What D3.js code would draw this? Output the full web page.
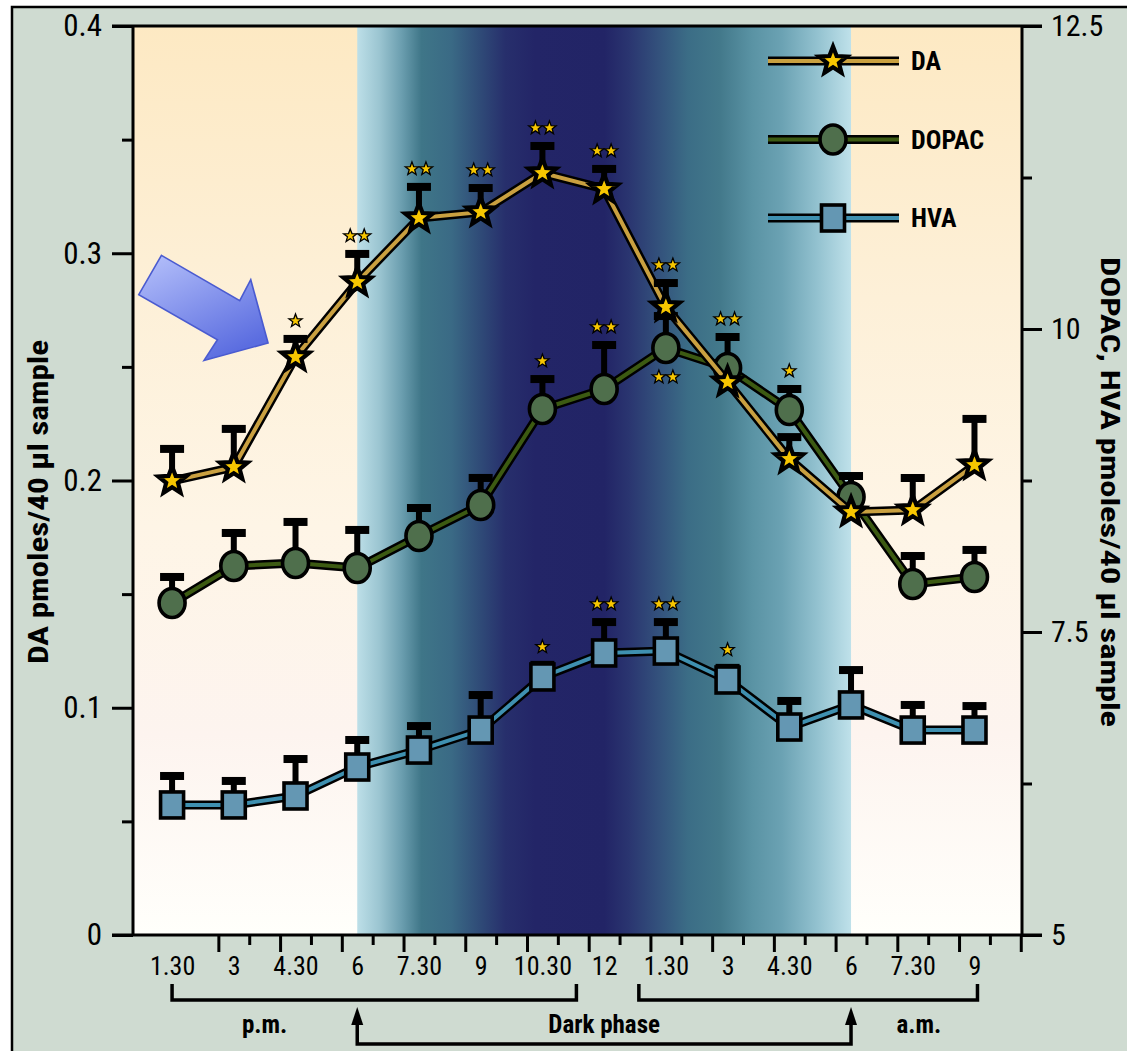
<!DOCTYPE html>
<html><head><meta charset="utf-8">
<script src="https://cdn.jsdelivr.net/npm/d3@7"></script>
<style>body{margin:0;background:#fff}svg{display:block}</style>
</head><body><svg id="c" width="1127" height="1051"></svg>
<script>
// ---------- data ----------
const timeLabels = ["1.30","3","4.30","6","7.30","9","10.30","12","1.30","3","4.30","6","7.30","9"];
const daMean   = [0.1998,0.2059,0.2543,0.2873,0.3155,0.3181,0.3353,0.3283,0.2763,0.2433,0.2095,0.1861,0.1870,0.2068];
const daErr    = [0.0141,0.0168,0.0080,0.0124,0.0137,0.0106,0.0119,0.0088,0.0106,0,0.0096,0,0.0141,0.0203];
const dopacMean= [7.739,8.045,8.069,8.028,8.292,8.548,9.340,9.505,9.843,9.678,9.332,8.614,7.896,7.954];
const dopacErr = [0.215,0.272,0.339,0.314,0.231,0.223,0.247,0.363,0.264,0.256,0.173,0.173,0.231,0.223];
const hvaMean  = [6.073,6.073,6.147,6.386,6.526,6.691,7.129,7.327,7.343,7.104,6.716,6.898,6.691,6.691];
const hvaErr   = [0.239,0.198,0.305,0.223,0.198,0.289,0.100,0.255,0.239,0.100,0.215,0.288,0.207,0.198];
// significance marks: [time index, number of stars, side]
const daSig    = [[2,1,"up"],[3,2,"up"],[4,2,"up"],[5,2,"up"],[6,2,"up"],[7,2,"up"],[8,2,"up"]];
const dopacSig = [[6,1,"up"],[7,2,"up"],[8,2,"down"],[9,2,"up"],[10,1,"up"]];
const hvaSig   = [[6,1,"up"],[7,2,"up"],[8,2,"up"],[9,1,"up"]];
const leftTicks  = [0,0.1,0.2,0.3,0.4];
const leftMinor  = [0.05,0.15,0.25,0.35];
const rightTicks = [5,7.5,10,12.5];
const rightMinor = [6.25,8.75,11.25];
const legendNames = ["DA","DOPAC","HVA"];
const periodLabels = ["p.m.","Dark phase","a.m."];

// ---------- layout ----------
const svg = d3.select("#c");
const L=133, R=1022, T=26, B=935;
const x = d3.scaleLinear().domain([-0.633,13.77]).range([L,R]);
const yDA = d3.scaleLinear().domain([0,0.4]).range([B,T]);
const yR  = d3.scaleLinear().domain([5,12.5]).range([B,T]);
const FONT = "'Liberation Sans Narrow','Roboto Condensed','DejaVu Sans Condensed',Roboto,sans-serif";

const defs = svg.append("defs");
const lg = defs.append("linearGradient").attr("id","light").attr("x1",0).attr("y1",0).attr("x2",0).attr("y2",1);
[[0,"#fde9c3"],[0.3,"#fdf0d8"],[0.55,"#fef5e6"],[0.78,"#fdf4ef"],[1,"#fffffb"]].forEach(s=>lg.append("stop").attr("offset",s[0]).attr("stop-color",s[1]));
const dg = defs.append("linearGradient").attr("id","dark").attr("x1",0).attr("y1",0).attr("x2",1).attr("y2",0);
[[0,"#bddfe8"],[0.045,"#9bc5d1"],[0.09,"#6b9eaf"],[0.13,"#3f7688"],[0.19,"#3a6a85"],[0.25,"#2f4a77"],[0.3,"#272f6c"],[0.36,"#232567"],[0.5,"#222466"],[0.55,"#2a3570"],[0.61,"#33517c"],[0.67,"#3b6d86"],[0.735,"#43798b"],[0.8,"#5a93a4"],[0.86,"#6ba2b3"],[0.93,"#92c1cf"],[1,"#bfe1ea"]].forEach(s=>dg.append("stop").attr("offset",s[0]).attr("stop-color",s[1]));
const ag = defs.append("linearGradient").attr("id","arrowG").attr("x1",0).attr("y1",0).attr("x2",0.6).attr("y2",1);
ag.append("stop").attr("offset",0).attr("stop-color","#b7c2fb");
ag.append("stop").attr("offset",1).attr("stop-color","#5b6de0");

// outer frame
svg.append("rect").attr("x",12).attr("y",7).attr("width",1140).attr("height",1070)
  .attr("fill","#cfdbd1").attr("stroke","#000").attr("stroke-width",2.5);

// plot backgrounds
svg.append("rect").attr("x",L).attr("y",T).attr("width",R-L).attr("height",B-T).attr("fill","url(#light)");
svg.append("rect").attr("x",x(3)).attr("y",T).attr("width",x(11)-x(3)).attr("height",B-T).attr("fill","url(#dark)");

// ---------- axes ----------
function styleAxis(g){
  g.select(".domain").remove();
  g.selectAll(".tick line").attr("stroke","#000").attr("stroke-width",3);
  g.selectAll("text").attr("font-family",FONT).attr("fill","#000");
}
svg.append("g").attr("transform",`translate(${L},0)`)
  .call(d3.axisLeft(yDA).tickValues(leftTicks).tickSize(21).tickPadding(10).tickFormat(d=>d===0?"0":d3.format(".1f")(d)))
  .call(styleAxis).selectAll("text").attr("font-size",31);
svg.append("g").attr("transform",`translate(${L},0)`)
  .call(d3.axisLeft(yDA).tickValues(leftMinor).tickSize(11).tickFormat(""))
  .call(styleAxis);
svg.append("g").attr("transform",`translate(${R},0)`)
  .call(d3.axisRight(yR).tickValues(rightTicks).tickSize(20).tickPadding(9).tickFormat(d=>String(d)))
  .call(styleAxis).selectAll("text").attr("font-size",30);
svg.append("g").attr("transform",`translate(${R},0)`)
  .call(d3.axisRight(yR).tickValues(rightMinor).tickSize(10).tickFormat(""))
  .call(styleAxis);
// bottom ticks (every 45 min)
const longTicks = d3.range(0,14).map(k=>k+0.75);
const shortTicks = d3.range(1,14).map(k=>k+0.25);
svg.append("g").attr("transform",`translate(0,${B})`)
  .call(d3.axisBottom(x).tickValues(longTicks).tickSize(17).tickFormat("")).call(styleAxis);
svg.append("g").attr("transform",`translate(0,${B})`)
  .call(d3.axisBottom(x).tickValues(shortTicks).tickSize(10).tickFormat("")).call(styleAxis);
svg.append("g").attr("transform",`translate(0,${B})`)
  .call(d3.axisBottom(x).tickValues(d3.range(14)).tickSize(0).tickPadding(22).tickFormat(i=>timeLabels[i]))
  .call(styleAxis).selectAll("text").attr("font-size",26);

// frame lines of plot
svg.append("path").attr("d",`M${L},${T}V${B}M${R},${T}V${B}M${L-21},${T}H${R+20}M${L-21},${B}H${R+20}`)
  .attr("stroke","#000").attr("stroke-width",3).attr("fill","none");

// axis titles
svg.append("text").attr("transform",`translate(48,502) rotate(-90)`).attr("text-anchor","middle")
  .attr("font-family",FONT).attr("font-weight","bold").attr("font-size",27)
  .attr("textLength",324).attr("lengthAdjust","spacingAndGlyphs").text("DA pmoles/40 µl sample");
svg.append("text").attr("transform",`translate(1101,492) rotate(90)`).attr("text-anchor","middle")
  .attr("font-family",FONT).attr("font-weight","bold").attr("font-size",26)
  .attr("textLength",470).attr("lengthAdjust","spacingAndGlyphs").text("DOPAC, HVA pmoles/40 µl sample");

// ---------- helpers ----------
function starPath(cx,cy,Ro,Ri){
  let p=[];
  for(let k=0;k<10;k++){const a=-Math.PI/2+k*Math.PI/5, r=k%2?Ri:Ro; p.push([cx+r*Math.cos(a),cy+r*Math.sin(a)]);}
  return "M"+p.map(q=>q[0].toFixed(2)+","+q[1].toFixed(2)).join("L")+"Z";
}
function marker(g,type,cx,cy){
  if(type==="star"){
    g.append("path").attr("d",starPath(cx,cy,14.5,6.2)).attr("fill","#f7c600").attr("stroke","#000")
      .attr("stroke-width",4.2).attr("stroke-linejoin","miter").attr("stroke-miterlimit",12);
  } else if(type==="circle"){
    g.append("ellipse").attr("cx",cx).attr("cy",cy).attr("rx",13).attr("ry",14.5)
      .attr("fill","#4f6f4c").attr("stroke","#000").attr("stroke-width",3.6);
  } else {
    g.append("rect").attr("x",cx-11.5).attr("y",cy-13).attr("width",23).attr("height",26)
      .attr("fill","#6497b3").attr("stroke","#000").attr("stroke-width",3.6);
  }
}
function sigStars(g,cx,cy,n){
  const offs = n===1?[0]:[-7,7];
  offs.forEach(o=>g.append("path").attr("d",starPath(cx+o,cy,7,2.9)).attr("fill","#f7c600")
    .attr("stroke","#000").attr("stroke-width",1.3).attr("stroke-linejoin","miter"));
}
function drawSeries(mean,err,y,color,type,sig){
  const g = svg.append("g");
  const line = d3.line().x((d,i)=>x(i)).y(d=>y(d));
  g.append("path").attr("d",line(mean)).attr("fill","none").attr("stroke","#000").attr("stroke-width",9).attr("stroke-linejoin","round");
  g.append("path").attr("d",line(mean)).attr("fill","none").attr("stroke",color).attr("stroke-width",4).attr("stroke-linejoin","round");
  mean.forEach((m,i)=>{
    if(err[i]>0){
      const cy=y(m+err[i]);
      g.append("rect").attr("x",x(i)-3).attr("y",cy).attr("width",6).attr("height",y(m)-cy).attr("fill","#000");
      g.append("rect").attr("x",x(i)-12).attr("y",cy-4).attr("width",24).attr("height",8).attr("fill","#000");
    }
  });
  mean.forEach((m,i)=>marker(g,type,x(i),y(m)));
  sig.forEach(([i,n,side])=>{
    const sy = side==="up" ? y(mean[i]+err[i])-18 : y(mean[i])+29;
    sigStars(g,x(i),sy,n);
  });
}

drawSeries(hvaMean,hvaErr,yR,"#3f90b0","square",hvaSig);
drawSeries(dopacMean,dopacErr,yR,"#3c5a12","circle",dopacSig);
drawSeries(daMean,daErr,yDA,"#c9a040","star",daSig);

// ---------- legend ----------
const legColors=["#c9a040","#3c5a12","#3f90b0"], legTypes=["star","circle","square"];
legendNames.forEach((name,k)=>{
  const ly = 61 + k*78.5, g=svg.append("g");
  g.append("line").attr("x1",768).attr("x2",899).attr("y1",ly).attr("y2",ly).attr("stroke","#000").attr("stroke-width",9);
  g.append("line").attr("x1",768).attr("x2",899).attr("y1",ly).attr("y2",ly).attr("stroke",legColors[k]).attr("stroke-width",4);
  marker(g,legTypes[k],833,ly);
  g.append("text").attr("x",911).attr("y",ly+9).attr("font-family",FONT).attr("font-weight","bold").attr("font-size",26).text(name);
});

// ---------- big arrow annotation ----------
const tip=[x(1.555), yDA(0.2605)];
const arrowPts=[[-106.6,-87.6],[-28.3,-42.3],[-17.3,-63.3],[0,0],[-64,17.4],[-50.6,-3.3],[-129.3,-48.3]];
svg.append("path").attr("d","M"+arrowPts.map(p=>(tip[0]+p[0])+","+(tip[1]+p[1])).join("L")+"Z")
  .attr("fill","url(#arrowG)").attr("stroke","#4a5bd0").attr("stroke-width",1.6);

// ---------- bottom period annotations ----------
const ann = svg.append("g").attr("stroke","#000").attr("stroke-width",3.5).attr("fill","none");
ann.append("path").attr("d",`M${x(0)},984V1000H${x(6)+34}V984`);
ann.append("path").attr("d",`M${x(8)-27},984V1000H${x(13)+3}V984`);
ann.append("path").attr("d",`M${x(3)},1022V1044H${x(11)}V1022`);
[x(3),x(11)].forEach(ax=>svg.append("path").attr("d",`M${ax},1007L${ax-6},1025L${ax+6},1025Z`).attr("fill","#000"));
[[1.5,0],[7,1],[12.1,2]].forEach(([xi,k])=>svg.append("text").attr("x",x(xi)).attr("y",1033).attr("text-anchor","middle")
  .attr("font-family",FONT).attr("font-weight","bold").attr("font-size",25).text(periodLabels[k]));
</script></body></html>
